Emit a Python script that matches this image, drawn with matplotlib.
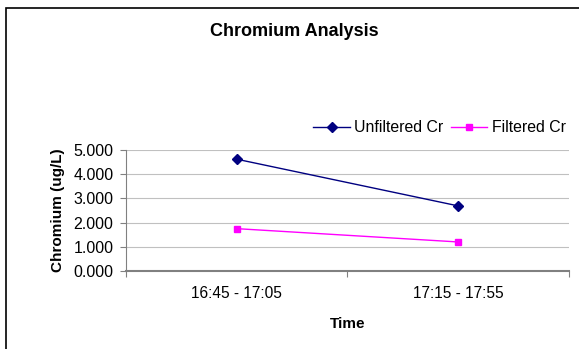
import matplotlib.pyplot as plt
from matplotlib.patches import Rectangle

plt.rcParams['font.family'] = ['Liberation Sans', 'DejaVu Sans']

times = ['16:45 - 17:05', '17:15 - 17:55']
unfiltered = [4.62, 2.69]
filtered = [1.75, 1.20]

fig = plt.figure(figsize=(5.79, 3.49), dpi=100)
ax = fig.add_axes([0.2176, 0.2235, 0.765, 0.3467])

# outer chart border (right and bottom edges fall outside the image)
fig.patches.append(Rectangle((6 / 579, -0.2), 1.2, 0.2 + 1 - 8 / 349, transform=fig.transFigure,
                             fill=False, edgecolor='black', linewidth=1.2))

xpos = [0.5, 1.5]
ax.plot(xpos, unfiltered, color='#000080', marker='D', markersize=5, linewidth=1, label='Unfiltered Cr')
ax.plot(xpos, filtered, color='#FF00FF', marker='s', markersize=5, linewidth=1, label='Filtered Cr')

ax.set_xlim(0, 2)
ax.set_ylim(0, 5)
ax.set_yticks([0, 1, 2, 3, 4, 5])
ax.set_yticklabels([f'{v:.3f}' for v in range(6)], fontsize=11.5)
ax.set_xticks([0, 1, 2])
ax.set_xticklabels([])
ax.set_xticks(xpos, minor=True)
ax.set_xticklabels(times, minor=True, fontsize=11.2)
ax.tick_params(axis='x', which='minor', length=0, pad=11)
ax.tick_params(axis='x', which='major', length=4, color='#808080')
ax.tick_params(axis='y', length=4, color='#808080', pad=5)
ax.grid(axis='y', color='#c0c0c0', linewidth=0.8)
ax.set_axisbelow(True)

for s in ['top', 'right']:
    ax.spines[s].set_visible(False)
ax.spines['left'].set_color('#808080')
ax.spines['bottom'].set_color('#808080')
ax.spines['bottom'].set_linewidth(1.5)

ax.set_xlabel('Time', fontsize=11, fontweight='bold', labelpad=11)
ax.set_ylabel('Chromium (ug/L)', fontsize=11, fontweight='bold', labelpad=6)
fig.text(294 / 579, 1 - 31 / 349, 'Chromium Analysis', ha='center', va='center', fontsize=13, fontweight='bold')

fig.legend(loc='center left', bbox_to_anchor=(307 / 579, 1 - 128 / 349), ncol=2, frameon=False,
           fontsize=11.4, handlelength=2.3, handletextpad=0.3, columnspacing=0.45, borderaxespad=0)

fig.savefig('out.png', dpi=100)
